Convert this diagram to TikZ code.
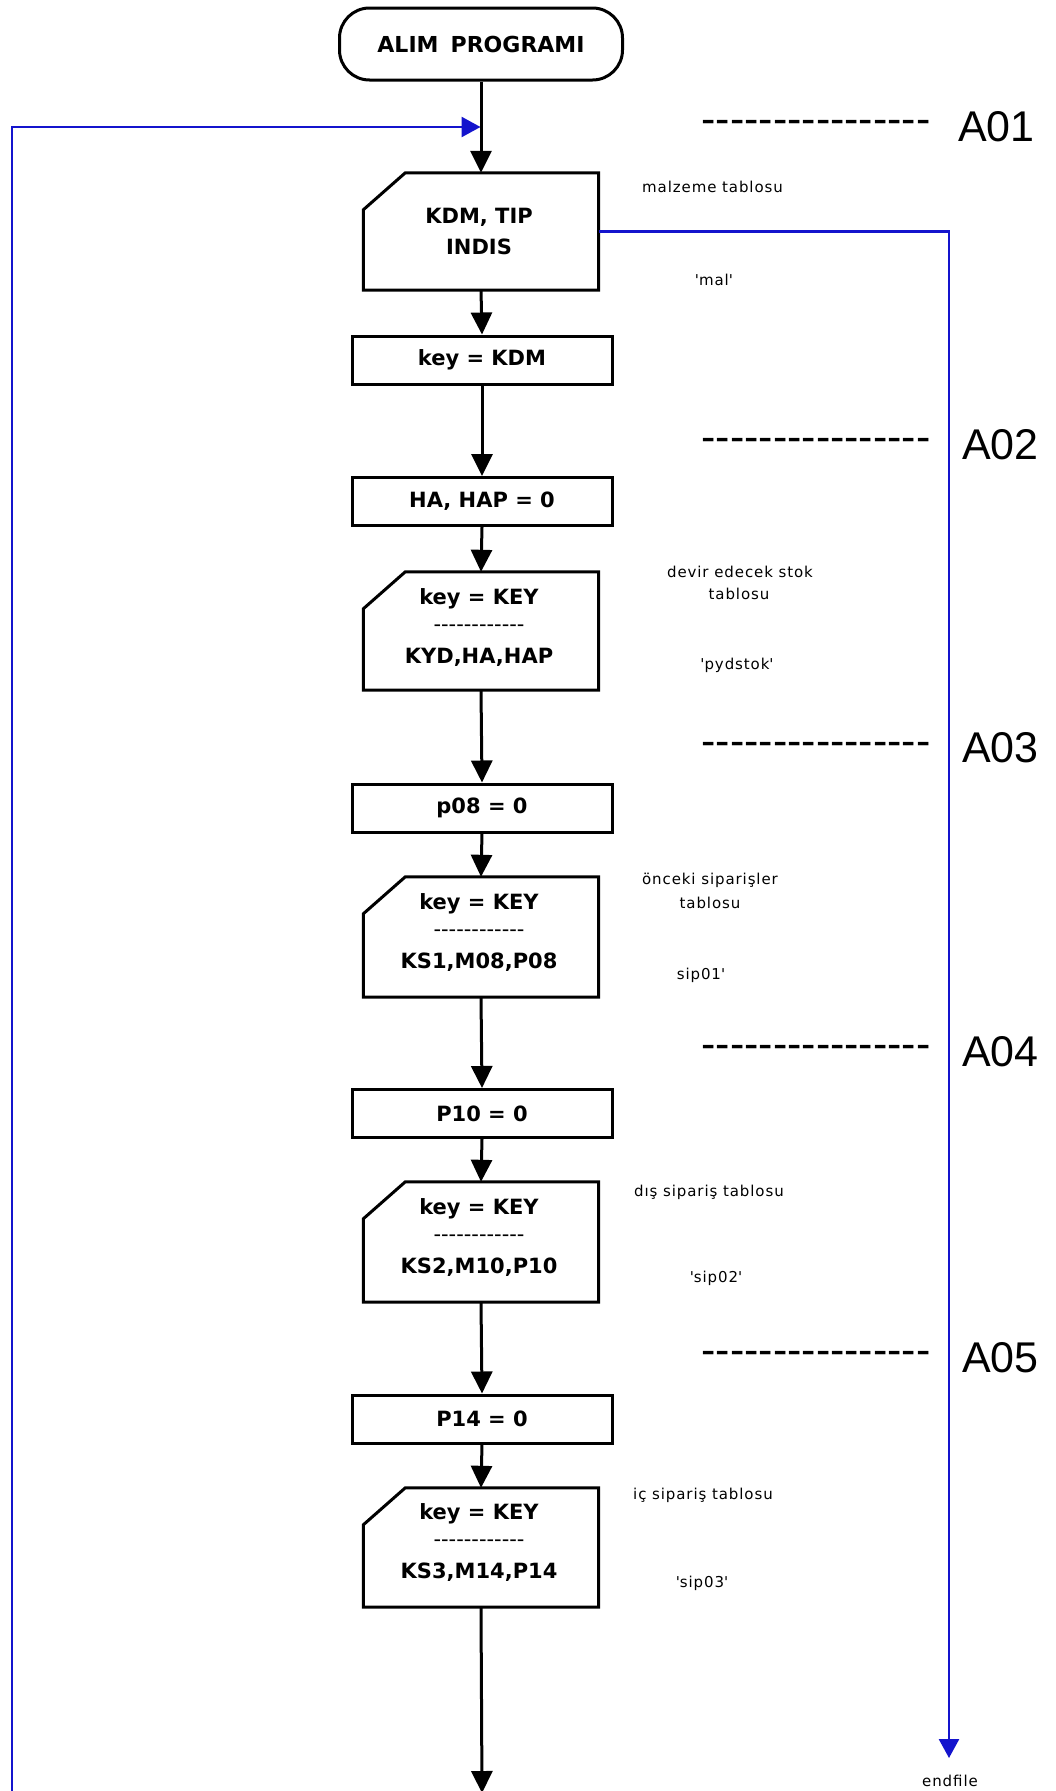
\documentclass[tikz,border=0pt]{standalone}
\usepackage{fontspec}
\setmainfont{DejaVu Sans}
\newfontfamily\arialf{Liberation Sans}
\newfontfamily\smallf[LetterSpace=6]{DejaVu Sans}
\usetikzlibrary{arrows.meta}
\definecolor{lblue}{RGB}{20,20,205}
\newcount\hyc
\newcommand\hyrow[1]{\hyc=0 \loop\mbox{-}\advance\hyc by 1 \ifnum\hyc<#1\repeat}
\newcommand\cutbox[1]{\draw[line width=3pt, line join=miter] ([xshift=42pt]#1.north west) -- (#1.north east) -- (#1.south east) -- (#1.south west) -- ([yshift=-37pt]#1.north west) -- cycle;}
\tikzset{
  flow/.style={line width=3pt, -{Triangle[width=21pt,length=22pt]}},
  bflow/.style={line width=2.6pt, draw=lblue, color=lblue, -{Triangle[width=20pt,length=19pt]}},
  rectbox/.style={draw, line width=3pt, minimum width=260pt, minimum height=48pt, inner sep=0pt, font=\fontsize{21}{25}\selectfont\bfseries},
  inbox/.style={minimum width=235pt, minimum height=118pt, inner sep=0pt},
  boxtxt/.style={font=\fontsize{21}{25}\selectfont\bfseries, inner sep=0pt},
  dashtxt/.style={font=\fontsize{21}{25}\selectfont, inner sep=0pt},
  small/.style={font=\smallf\fontsize{15}{18}\selectfont, inner sep=0pt},
  alabel/.style={font=\arialf\fontsize{43}{50}\selectfont, inner sep=0pt, anchor=west},
  aline/.style={font=\arialf\fontsize{43}{50}\selectfont, inner sep=0pt},
}
\begin{document}
\begin{tikzpicture}[x=1pt,y=-1pt]
\useasboundingbox[fill=white] (0,0) rectangle (1055,1791);

% terminal
\node[draw, line width=3pt, rounded corners=30pt, minimum width=283pt, minimum height=72pt, inner sep=0pt,
      font=\fontsize{22}{26}\selectfont\bfseries] (term) at (481,44) {ALIM\hspace{0.55em}PROGRAMI};

% boxes
\node[inbox, minimum height=117pt] (b1) at (481,231.5) {};
\cutbox{b1}
\node[boxtxt] (b1t1) at (479,217) {KDM, TIP};
\node[boxtxt] (b1t2) at (479,247) {INDIS};

\node[rectbox] (r1) at (482,360) {key = KDM};
\node[rectbox] (r2) at (482,501.5) {HA, HAP = 0};

\node[inbox, minimum height=118pt] (b2) at (481,631) {};
\cutbox{b2}
\node[boxtxt] (b2t1) at (479,599) {key = KEY};
\node[dashtxt] (b2t2) at (479,628) {\hyrow{12}};
\node[boxtxt] (b2t3) at (479,657) {KYD,HA,HAP};

\node[rectbox] (r3) at (482,808) {p08 = 0};

\node[inbox, minimum height=120pt] (b3) at (481,937) {};
\cutbox{b3}
\node[boxtxt] (b3t1) at (479,904) {key = KEY};
\node[dashtxt] (b3t2) at (479,933) {\hyrow{12}};
\node[boxtxt] (b3t3) at (479,962) {KS1,M08,P08};

\node[rectbox] (r4) at (482,1113.5) {P10 = 0};

\node[inbox, minimum height=120pt] (b4) at (481,1242) {};
\cutbox{b4}
\node[boxtxt] (b4t1) at (479,1209) {key = KEY};
\node[dashtxt] (b4t2) at (479,1238) {\hyrow{12}};
\node[boxtxt] (b4t3) at (479,1267) {KS2,M10,P10};

\node[rectbox] (r5) at (482,1419) {P14 = 0};

\node[inbox, minimum height=119pt] (b5) at (481,1547.5) {};
\cutbox{b5}
\node[boxtxt] (b5t1) at (479,1514) {key = KEY};
\node[dashtxt] (b5t2) at (479,1543) {\hyrow{12}};
\node[boxtxt] (b5t3) at (479,1572) {KS3,M14,P14};

% main flow
\coordinate (bottomend) at (482,1793);
\draw[flow] (term.south) -- (b1.north);
\draw[flow] (b1.south) -- (r1.north);
\draw[flow] (r1.south) -- (r2.north);
\draw[flow] (r2.south) -- (b2.north);
\draw[flow] (b2.south) -- (r3.north);
\draw[flow] (r3.south) -- (b3.north);
\draw[flow] (b3.south) -- (r4.north);
\draw[flow] (r4.south) -- (b4.north);
\draw[flow] (b4.south) -- (r5.north);
\draw[flow] (r5.south) -- (b5.north);
\draw[flow] (b5.south) -- (bottomend);

% blue loop back
\coordinate (loopbot) at (12,1791);
\coordinate (loopend) at (480.5,127);
\draw[bflow] (loopbot) |- (loopend);

% blue endfile branch
\node[small] (endf) at (950,1781) {endfile};
\coordinate (endtip) at (949,1758);
\draw[bflow] (b1.east) -| (endtip);

% section markers
\node[aline] (d1) at (816,127) {\hyrow{16}};
\node[alabel] (a1) at (958,127) {A01};
\node[aline] (d2) at (816,445) {\hyrow{16}};
\node[alabel] (a2) at (962,445) {A02};
\node[aline] (d3) at (816,749) {\hyrow{16}};
\node[alabel] (a3) at (962,748) {A03};
\node[aline] (d4) at (816,1052) {\hyrow{16}};
\node[alabel] (a4) at (962,1052) {A04};
\node[aline] (d5) at (816,1358) {\hyrow{16}};
\node[alabel] (a5) at (962,1358) {A05};

% table labels
\node[small, anchor=west] (l1a) at (642,187) {malzeme tablosu};
\node[small] (l1b) at (714,280) {\textquotesingle mal\textquotesingle};

\node[small] (l2a) at (740,572) {devir edecek stok};
\node[small] (l2b) at (739,594) {tablosu};
\node[small] (l2c) at (737,665) {\textquotesingle pydstok\textquotesingle};

\node[small] (l3a) at (710,880) {önceki siparişler};
\node[small] (l3b) at (710,903) {tablosu};
\node[small] (l3c) at (701,975) {sip01\textquotesingle};

\node[small, anchor=west] (l4a) at (634,1192) {dış sipariş tablosu};
\node[small] (l4b) at (716,1278) {\textquotesingle sip02\textquotesingle};

\node[small, anchor=west] (l5a) at (633,1495) {iç sipariş tablosu};
\node[small] (l5b) at (702,1583) {\textquotesingle sip03\textquotesingle};
\end{tikzpicture}
\end{document}
